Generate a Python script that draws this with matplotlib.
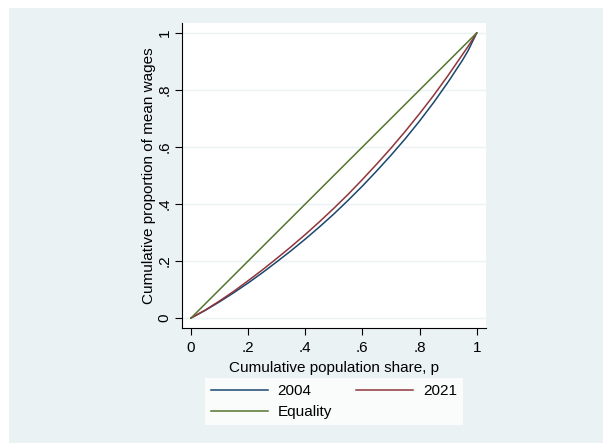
import matplotlib
matplotlib.use("Agg")
import matplotlib.pyplot as plt
from matplotlib.patches import Rectangle

plt.rcParams["font.family"] = ["Liberation Sans", "DejaVu Sans"]

# Lorenz curve ordinates for wages, by cumulative population share
pop_share = [0.0, 0.05, 0.10, 0.15, 0.20, 0.25, 0.30, 0.35, 0.40, 0.45, 0.50,
             0.55, 0.60, 0.65, 0.70, 0.75, 0.80, 0.85, 0.90, 0.95, 0.97, 1.0]
lorenz_2004 = [0.0, 0.027, 0.057, 0.089, 0.123, 0.159, 0.197, 0.236, 0.277,
               0.320, 0.365, 0.413, 0.463, 0.516, 0.571, 0.629, 0.691, 0.757,
               0.828, 0.904, 0.938, 1.0]
lorenz_2021 = [0.0, 0.028, 0.060, 0.094, 0.131, 0.169, 0.209, 0.250, 0.293,
               0.338, 0.385, 0.434, 0.486, 0.540, 0.596, 0.655, 0.717, 0.782,
               0.851, 0.924, 0.953, 1.0]
equality = [0.0, 1.0]

x_ticks = [0, 0.2, 0.4, 0.6, 0.8, 1.0]
x_tick_labels = ["0", ".2", ".4", ".6", ".8", "1"]
y_ticks = [0, 0.2, 0.4, 0.6, 0.8, 1.0]
y_tick_labels = ["0", ".2", ".4", ".6", ".8", "1"]

NAVY = "#1A476F"
MAROON = "#90353B"
GREEN = "#55752F"
REGION = "#EAF2F3"
FS = 11

W, H = 603, 443
fig = plt.figure(figsize=(W / 100, H / 100), dpi=100, facecolor="white")

# graph region backdrop
fig.patches.append(Rectangle((9 / W, 0), 1 - 9 / W, 1 - 8 / H,
                             transform=fig.transFigure, facecolor=REGION,
                             edgecolor="none", zorder=-10))

left, right, top, bottom = 181.5, 486, 23, 328
ax = fig.add_axes([left / W, 1 - bottom / H, (right - left) / W, (bottom - top) / H])
ax.set_facecolor("white")

l04, = ax.plot(pop_share, lorenz_2004, color=NAVY, lw=1.1, label="2004")
l21, = ax.plot(pop_share, lorenz_2021, color=MAROON, lw=1.1, label="2021")
leq, = ax.plot(equality, equality, color=GREEN, lw=1.1, label="Equality")

ax.set_xlim(-0.0333, 1.0326)
ax.set_ylim(-0.035, 1.035)

ax.set_xticks(x_ticks)
ax.set_xticklabels(x_tick_labels)
ax.set_yticks(y_ticks)
ax.set_yticklabels(y_tick_labels, rotation=90, va="center")
ax.tick_params(axis="both", direction="out", length=5, width=0.8,
               color="#000000", labelsize=FS)
ax.tick_params(axis="x", pad=4)
ax.tick_params(axis="y", pad=2)

ax.grid(axis="y", color=REGION, lw=1.0)
ax.set_axisbelow(True)

for side in ("top", "right"):
    ax.spines[side].set_visible(False)
for side in ("left", "bottom"):
    ax.spines[side].set_linewidth(0.8)
    ax.spines[side].set_color("#000000")

ax.set_xlabel("Cumulative population share, p", fontsize=FS, labelpad=5)
ax.set_ylabel("Cumulative proportion of mean wages", fontsize=FS, labelpad=1)

leg = fig.legend([l04, leq, l21], ["2004", "Equality", "2021"], ncol=2,
                 loc="upper left", bbox_to_anchor=(205 / W, 1 - 378 / H),
                 borderaxespad=0, fontsize=FS, frameon=True, fancybox=False,
                 handlelength=3.7, handletextpad=0.65, columnspacing=1.6,
                 labelspacing=0.45, borderpad=0.4)
leg.get_frame().set_facecolor("white")
leg.get_frame().set_edgecolor("white")
leg.get_frame().set_linewidth(0)

fig.savefig("out.png", dpi=100, facecolor="white")
